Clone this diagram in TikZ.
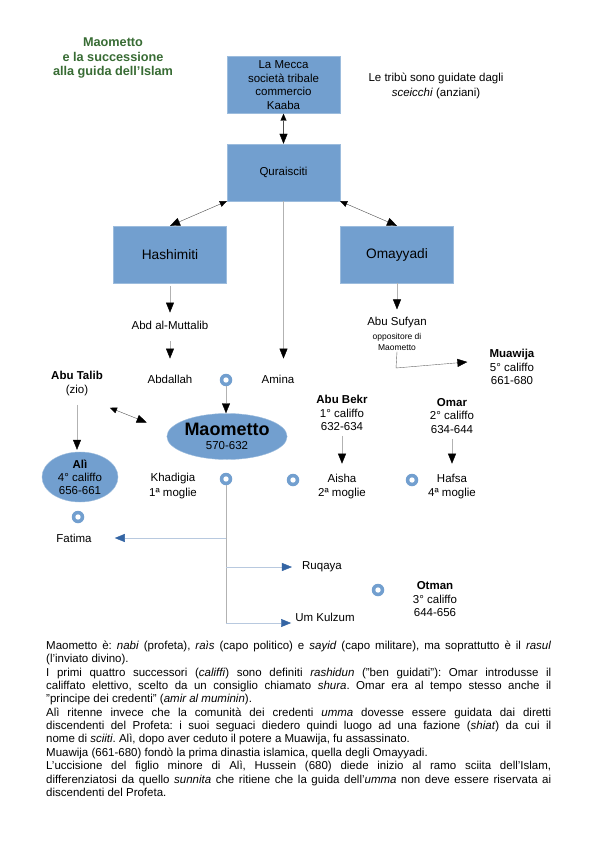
\documentclass[tikz,border=0pt]{standalone}
\usepackage{fontspec}
\setmainfont{Liberation Sans}
\usetikzlibrary{arrows.meta,positioning,shapes.geometric}
\definecolor{Sky}{RGB}{114,159,207}
\definecolor{Royal}{RGB}{52,101,164}
\definecolor{Forest}{RGB}{56,108,52}
\newcommand{\Small}{\fontsize{8.5}{11}\selectfont}

\begin{document}
\begin{tikzpicture}[
  x=1pt, y=-1pt,
  font=\fontsize{11.5}{13.5}\selectfont,
  tribe/.style={draw=Sky!70!white, fill=Sky, minimum width=113pt, minimum height=57pt, align=center, inner sep=2pt},
  clan/.style={tribe, font=\fontsize{13.7}{16}\selectfont},
  leader/.style={ellipse, draw=Sky!70!white, fill=Sky, align=center, inner sep=0pt},
  person/.style={align=center, inner sep=1pt},
  ring/.style={circle, fill=Sky, minimum size=12.5pt, inner sep=0pt,
    path picture={\fill[white] (path picture bounding box.center) circle (2.7pt);}},
  kinship/.style={draw=black!30, -{Triangle[length=10pt, width=8pt, color=black]}},
  alliance/.style={draw=black!70, {Triangle[length=7pt, width=6pt, color=black]}-{Triangle[length=10pt, width=8pt, color=black]}},
  offspring/.style={draw=Royal!35!white, -{Triangle[length=10pt, width=8pt, color=Royal]}}
]
  \useasboundingbox[fill=white] (0,0) rectangle (595,842);

  \node[align=center, text=Forest, font=\fontsize{12.7}{14.5}\selectfont\bfseries] (title) at (113,58)
    {Maometto\\e la successione\\alla guida dell'Islam};
  \node[tribe] (mecca) at (283.5,85) {La Mecca\\società tribale\\commercio\\Kaaba};
  \node[tribe] (quraisciti) at (283.5,172.5) {Quraisciti};
  \node[person, font=\fontsize{11.5}{15.5}\selectfont] (sceicchi) at (436,86)
    {Le tribù sono guidate dagli\\\textit{sceicchi} (anziani)};
  \node[clan] (hashimiti) at (170,254.5) {Hashimiti};
  \node[clan] (omayyadi) at (397,254.5) {Omayyadi};

  \node[person] (abd) at (170,325) {Abd al-Muttalib};
  \node[person] (abdallah) at (170,379) {Abdallah};
  \node[person] (sufyan) at (397,323) {Abu Sufyan};
  \node[person, font=\Small, below=2.5pt of sufyan] (sufyannote) {oppositore di\\Maometto};
  \node[person] (muawija) at (512,367) {\textbf{Muawija}\\5° califfo\\661-680};
  \node[person] (amina) at (278,379) {Amina};
  \node[person] (abutalib) at (77,383.5) {\textbf{Abu Talib}\\(zio)};

  \node[leader, minimum width=114pt, minimum height=46pt] (maometto) at (227,436.5)
    {{\fontsize{18}{20}\selectfont\bfseries Maometto}\\570-632};
  \node[leader, minimum width=76pt, minimum height=50pt, font=\fontsize{11.5}{13}\selectfont] (ali) at (80,477)
    {\textbf{Alì}\\4° califfo\\656-661};

  \node[person] (abubekr) at (342,413) {\textbf{Abu Bekr}\\1° califfo\\632-634};
  \node[person] (omar) at (452,416) {\textbf{Omar}\\2° califfo\\634-644};
  \node[person, font=\fontsize{11.5}{14.5}\selectfont] (khadigia) at (173,486) {Khadigia\\1ª moglie};
  \node[person, font=\fontsize{11.5}{14.5}\selectfont] (aisha) at (342,486.5) {Aisha\\2ª moglie};
  \node[person, font=\fontsize{11.5}{14.5}\selectfont] (hafsa) at (452,486.5) {Hafsa\\4ª moglie};
  \node[person] (fatima) at (74,538) {Fatima};
  \node[person] (ruqaya) at (322,567) {Ruqaya};
  \node[person] (umkulzum) at (325,617) {Um Kulzum};
  \node[person] (otman) at (435,599.5) {\textbf{Otman}\\3° califfo\\644-656};

  \node[ring] (ringamina) at (226,380) {};
  \node[ring] (ringkhadigia) at (226,479) {};
  \node[ring] (ringaisha) at (293,480) {};
  \node[ring] (ringhafsa) at (412,480) {};
  \node[ring] (ringfatima) at (78,517) {};
  \node[ring] (ringotman) at (378,590) {};
  \coordinate (bend) at (396,368);
  \coordinate (foot) at (226,623);

  \draw[alliance] (mecca) -- (quraisciti);
  \draw[alliance] (quraisciti.south west) -- (hashimiti.north);
  \draw[alliance] (quraisciti.south east) -- (omayyadi.north);
  \draw[alliance] ([xshift=6pt, yshift=-11pt]abutalib.south east) -- ([xshift=-20pt, yshift=14pt]maometto.west);

  \draw[kinship, shorten >=15pt] (quraisciti.south) -- (quraisciti.south |- amina.north);
  \draw[kinship, shorten <=3pt, shorten >=7pt] (hashimiti) -- (abd);
  \draw[kinship, shorten <=11pt, shorten >=15pt] (abd) -- (abdallah);
  \draw[kinship, shorten >=7pt] (omayyadi) -- (sufyan);
  \draw[draw=black!60, -{Triangle[length=10pt, width=8pt, color=black]}] (sufyannote.south) -- (bend) -- ([xshift=-21pt, yshift=5pt]muawija.west);
  \draw[kinship, shorten <=8pt, shorten >=2pt] (abutalib.south) -- (abutalib.south |- ali.north);
  \draw[kinship] (ringamina) -- (ringamina |- maometto.north);
  \draw[kinship, shorten <=4pt, shorten >=9pt] (abubekr) -- (aisha);
  \draw[kinship, shorten <=4pt, shorten >=9pt] (omar) -- (hafsa);

  \draw[draw=black!30] (ringkhadigia) -- (foot);
  \draw[offspring, shorten >=22pt] (ringkhadigia |- fatima) -- (fatima.east);
  \draw[offspring, shorten >=9pt] (ringkhadigia |- ruqaya) -- (ruqaya.west);
  \draw[offspring, shorten >=3pt] (foot) -- (foot -| umkulzum.west);

  \node[anchor=north west, text width=505pt, align=justify, inner sep=0pt] (notes) at (46,641)
    {\fontsize{11.5}{13.3}\selectfont\parindent=0pt\hyphenpenalty=10000\frenchspacing
     Maometto è: \textit{nabi} (profeta), \textit{raìs} (capo politico) e \textit{sayid} (capo militare), ma soprattutto è il \textit{rasul}\linebreak
     (l'inviato divino).\par
     I primi quattro successori (\textit{califfi}) sono definiti \textit{rashidun} ("ben guidati"): Omar introdusse il\linebreak
     califfato elettivo, scelto da un consiglio chiamato \textit{shura}. Omar era al tempo stesso anche il\linebreak
     "principe dei credenti" (\textit{amir al muminin}).\par
     Alì ritenne invece che la comunità dei credenti \textit{umma} dovesse essere guidata dai diretti\linebreak
     discendenti del Profeta: i suoi seguaci diedero quindi luogo ad una fazione (\textit{shiat}) da cui il\linebreak
     nome di \textit{sciiti}. Alì, dopo aver ceduto il potere a Muawija, fu assassinato.\par
     Muawija (661-680) fondò la prima dinastia islamica, quella degli Omayyadi.\par
     L'uccisione del figlio minore di Alì, Hussein (680) diede inizio al ramo sciita dell'Islam,\linebreak
     differenziatosi da quello \textit{sunnita} che ritiene che la guida dell'\textit{umma} non deve essere riservata ai\linebreak
     discendenti del Profeta.};
\end{tikzpicture}
\end{document}
